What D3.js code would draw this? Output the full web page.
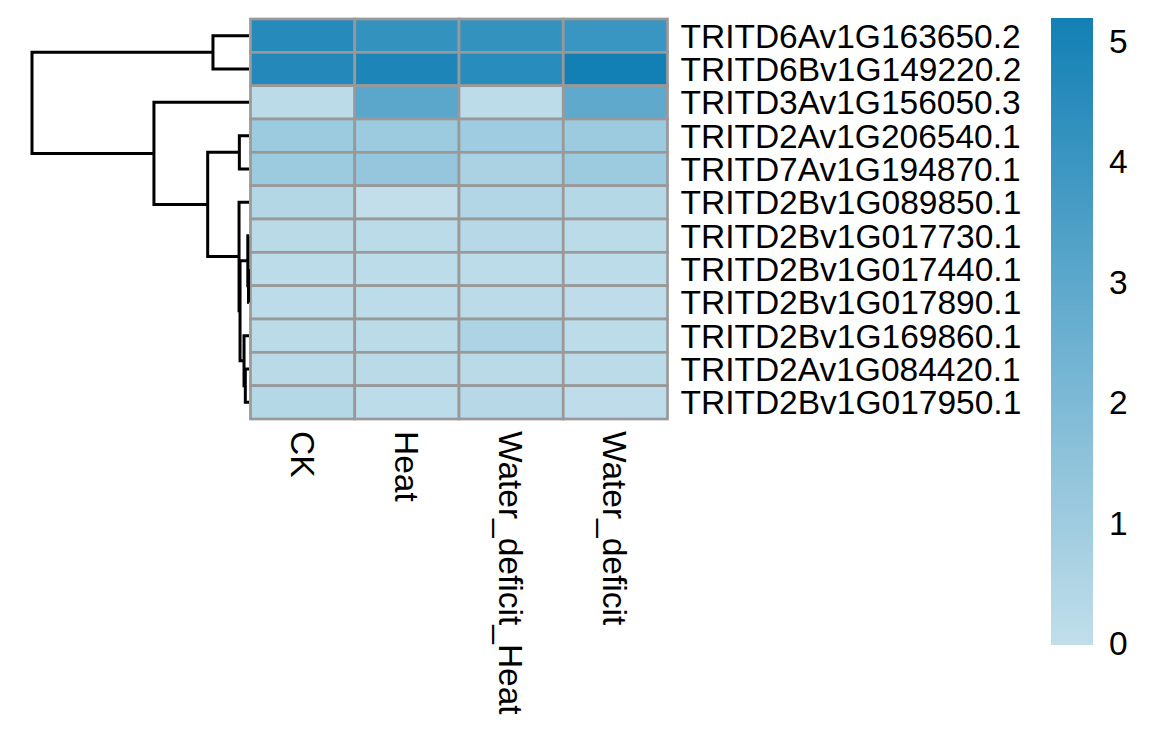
<!DOCTYPE html>
<html>
<head>
<meta charset="utf-8">
<script src="https://cdn.jsdelivr.net/npm/d3@7"></script>
<style>
  html, body { margin: 0; padding: 0; background: #ffffff; }
  svg { display: block; }
  text { font-family: "Liberation Sans", Arial, Helvetica, sans-serif; fill: #000; }
</style>
</head>
<body>
<svg id="chart" width="1170" height="744"></svg>
<script>
// ---------------- DATA ----------------
const genes = [
  "TRITD6Av1G163650.2",
  "TRITD6Bv1G149220.2",
  "TRITD3Av1G156050.3",
  "TRITD2Av1G206540.1",
  "TRITD7Av1G194870.1",
  "TRITD2Bv1G089850.1",
  "TRITD2Bv1G017730.1",
  "TRITD2Bv1G017440.1",
  "TRITD2Bv1G017890.1",
  "TRITD2Bv1G169860.1",
  "TRITD2Av1G084420.1",
  "TRITD2Bv1G017950.1"
];
const conditions = ["CK", "Heat", "Water_deficit_Heat", "Water_deficit"];

// values per gene, in the order of conditions
const valCK      = [4.62, 4.68, 0.15, 1.10, 1.10, 0.40, 0.20, 0.12, 0.12, 0.15, 0.20, 0.35];
const valHeat    = [4.20, 4.90, 3.05, 1.10, 1.30, 0.00, 0.18, 0.12, 0.12, 0.15, 0.20, 0.12];
const valWDHeat  = [4.20, 4.55, 0.12, 1.00, 0.65, 0.45, 0.30, 0.12, 0.14, 0.60, 0.20, 0.30];
const valWD      = [4.05, 5.19, 2.95, 1.10, 1.10, 0.35, 0.18, 0.12, 0.10, 0.12, 0.18, 0.10];

// hierarchical clustering merges (hclust style): negative = leaf index (1-based, row order), positive = earlier merge
const merges = [
  [-8, -9, 0.05],
  [-7, 1, 0.12],
  [-11, -12, 0.37],
  [-10, 3, 0.50],
  [2, 4, 0.90],
  [-6, 5, 1.00],
  [-4, -5, 0.97],
  [7, 6, 4.15],
  [-3, 8, 9.55],
  [-1, -2, 3.62],
  [10, 9, 21.8]
];

const legendTicks = [0, 1, 2, 3, 4, 5];
const colorLow = "#c1deea";
const colorHigh = "#1380b5";

// ---------------- LAYOUT ----------------
const svg = d3.select("#chart");
const hm = { left: 250.5, right: 667.5, top: 19, bottom: 419 };
const fontSize = 33.5;

const allVals = [valCK, valHeat, valWDHeat, valWD];
const vmin = d3.min(allVals.flat());
const vmax = d3.max(allVals.flat());

const x = d3.scaleBand().domain(conditions).range([hm.left, hm.right]);
const y = d3.scaleBand().domain(genes).range([hm.top, hm.bottom]);
const color = d3.scaleLinear().domain([vmin, vmax]).range([colorLow, colorHigh]).interpolate(d3.interpolateRgb);

// ---------------- HEATMAP CELLS ----------------
const cells = [];
genes.forEach((g, i) => {
  conditions.forEach((c, j) => {
    cells.push({ gene: g, cond: c, value: allVals[j][i] });
  });
});

svg.append("g").selectAll("rect")
  .data(cells)
  .join("rect")
  .attr("x", d => x(d.cond))
  .attr("y", d => y(d.gene))
  .attr("width", x.bandwidth())
  .attr("height", y.bandwidth())
  .attr("fill", d => color(d.value))
  .attr("stroke", "#999999")
  .attr("stroke-width", 2.7);

// ---------------- ROW LABELS ----------------
svg.append("g").selectAll("text")
  .data(genes)
  .join("text")
  .attr("x", hm.right + 13)
  .attr("y", d => y(d) + y.bandwidth() / 2)
  .attr("dy", "0.36em")
  .attr("font-size", fontSize)
  .text(d => d);

// ---------------- COLUMN LABELS ----------------
svg.append("g").selectAll("text")
  .data(conditions)
  .join("text")
  .attr("transform", d => `translate(${x(d) + x.bandwidth() / 2},${hm.bottom + 12}) rotate(90)`)
  .attr("dy", "0.36em")
  .attr("font-size", fontSize)
  .text(d => d);

// ---------------- DENDROGRAM ----------------
const dendroX = d3.scaleLinear().domain([0, d3.max(merges, m => m[2])]).range([249, 32]);
const nodes = [];
function pos(ref) {
  if (ref < 0) {
    const g = genes[-ref - 1];
    return { x: dendroX(0), y: y(g) + y.bandwidth() / 2 };
  }
  return nodes[ref - 1];
}
const segs = [];
merges.forEach(m => {
  const a = pos(m[0]), b = pos(m[1]);
  const nx = dendroX(m[2]);
  const ny = (a.y + b.y) / 2;
  nodes.push({ x: nx, y: ny });
  segs.push([[a.x, a.y], [nx, a.y], [nx, b.y], [b.x, b.y]]);
});
svg.append("g").selectAll("path")
  .data(segs)
  .join("path")
  .attr("d", d => d3.line()(d))
  .attr("fill", "none")
  .attr("stroke", "#000")
  .attr("stroke-width", 3)
  .attr("stroke-linecap", "butt");

// ---------------- LEGEND ----------------
const leg = { x: 1051, w: 42, top: 18, bottom: 645 };
const defs = svg.append("defs");
const grad = defs.append("linearGradient")
  .attr("id", "legGrad")
  .attr("x1", 0).attr("y1", 1).attr("x2", 0).attr("y2", 0);
grad.selectAll("stop")
  .data(d3.range(0, 1.0001, 0.1))
  .join("stop")
  .attr("offset", d => d)
  .attr("stop-color", d => color(vmin + d * (vmax - vmin)));

svg.append("rect")
  .attr("x", leg.x)
  .attr("y", leg.top)
  .attr("width", leg.w)
  .attr("height", leg.bottom - leg.top)
  .attr("fill", "url(#legGrad)");

const legY = d3.scaleLinear().domain([vmin, vmax]).range([leg.bottom - 2, leg.top]);
svg.append("g").selectAll("text")
  .data(legendTicks)
  .join("text")
  .attr("x", leg.x + leg.w + 16)
  .attr("y", d => legY(d))
  .attr("dy", "0.36em")
  .attr("font-size", fontSize)
  .text(d => d);
</script>
</body>
</html>
